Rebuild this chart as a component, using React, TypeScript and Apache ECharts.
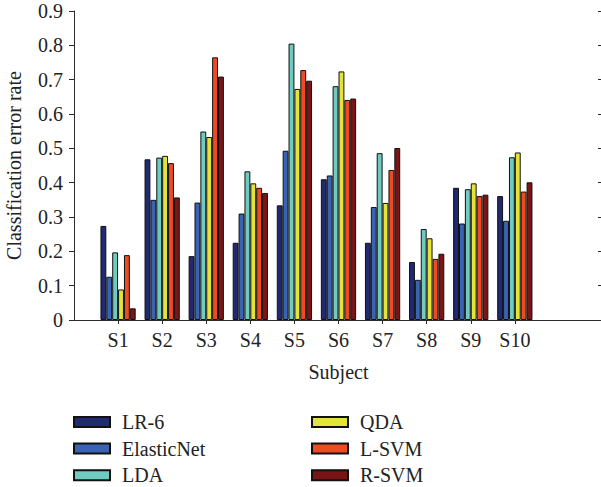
import React, { useEffect, useRef } from "react";
import * as echarts from "echarts";

const subjects = ["", "S1", "S2", "S3", "S4", "S5", "S6", "S7", "S8", "S9", "S10", "", ""];
const methods = ["LR-6", "ElasticNet", "LDA", "QDA", "L-SVM", "R-SVM"];
const colors = ["#1f2a72", "#3a63b4", "#6fcbbf", "#e3e43a", "#f04a22", "#7a1515"];

const lr6 = [0.274, 0.468, 0.186, 0.225, 0.334, 0.41, 0.225, 0.169, 0.385, 0.361];
const elasticNet = [0.126, 0.35, 0.342, 0.31, 0.493, 0.421, 0.329, 0.117, 0.281, 0.289];
const lda = [0.197, 0.473, 0.549, 0.433, 0.805, 0.681, 0.486, 0.265, 0.381, 0.474];
const qda = [0.089, 0.478, 0.533, 0.398, 0.673, 0.724, 0.341, 0.238, 0.398, 0.488];
const lsvm = [0.189, 0.457, 0.765, 0.385, 0.728, 0.641, 0.437, 0.178, 0.361, 0.374];
const rsvm = [0.034, 0.357, 0.709, 0.37, 0.697, 0.645, 0.501, 0.193, 0.365, 0.401];

const yTicks = [0, 0.1, 0.2, 0.3, 0.4, 0.5, 0.6, 0.7, 0.8, 0.9];

const FONT = "Liberation Serif";
const AXIS_COLOR = "#2a2a2a";

export default function App() {
  const ref = useRef<HTMLDivElement>(null);
  useEffect(() => {
    if (!ref.current) return;
    const chart = echarts.init(ref.current, undefined, { renderer: "svg" });
    const all = [lr6, elasticNet, lda, qda, lsvm, rsvm];
    const pad = (arr: number[]) => [null, ...arr, null, null];
    const series: any[] = all.map((vals, i) => ({
      name: methods[i],
      type: "bar",
      data: pad(vals),
      barGap: "0%",
      barCategoryGap: "20%",
      itemStyle: { color: colors[i], borderColor: "#111", borderWidth: 1 },
    }));
    const yMin = yTicks[0];
    const yMax = yTicks[yTicks.length - 1];
    const legendBase = {
      orient: "vertical",
      top: 412,
      height: 75,
      padding: 0,
      itemWidth: 36,
      itemHeight: 10,
      itemGap: 6.6,
      icon: "rect",
      textStyle: { fontFamily: FONT, fontSize: 20, color: "#222", lineHeight: 20, padding: [0, 0, 0, 7] },
    };
    chart.setOption({
      animation: false,
      backgroundColor: "#fff",
      textStyle: { fontFamily: FONT },
      grid: { left: 74, right: -2, top: 11, bottom: 167, containLabel: false, outerBoundsMode: "none" },
      legend: [
        { ...legendBase, data: methods.slice(0, 3), left: 73 },
        { ...legendBase, data: methods.slice(3), left: 311 },
      ],
      xAxis: [
        {
          type: "category",
          data: subjects,
          boundaryGap: false,
          position: "bottom",
          name: "Subject",
          nameLocation: "middle",
          nameGap: 42,
          nameTextStyle: { fontFamily: FONT, fontSize: 20, color: "#222" },
          axisLine: { lineStyle: { color: AXIS_COLOR, width: 1 } },
          axisTick: { show: false },
          axisLabel: { fontFamily: FONT, fontSize: 20, color: "#222", margin: 10, interval: 0 },
          splitLine: { show: false },
        },
        {
          type: "category",
          data: subjects,
          boundaryGap: false,
          position: "top",
          axisLine: { lineStyle: { color: AXIS_COLOR, width: 1 } },
          axisTick: {
            show: true,
            inside: true,
            length: 4,
            interval: (_i: number, v: string) => v !== "",
            lineStyle: { color: AXIS_COLOR },
          },
          axisLabel: { show: false },
          splitLine: { show: false },
        },
      ],
      yAxis: [
        {
          type: "value",
          min: yMin,
          max: yMax,
          interval: 0.1,
          name: "Classification error rate",
          nameLocation: "middle",
          nameGap: 50,
          nameTextStyle: { fontFamily: FONT, fontSize: 20, color: "#222" },
          axisLine: { show: true, lineStyle: { color: AXIS_COLOR, width: 1 } },
          axisTick: { show: true, inside: false, length: 5, lineStyle: { color: AXIS_COLOR } },
          axisLabel: {
            fontFamily: FONT,
            fontSize: 20,
            color: "#222",
            margin: 11,
            formatter: (v: number) => (Math.abs(v) < 1e-9 ? "0" : v.toFixed(1)),
          },
          splitLine: { show: false },
        },
        {
          type: "value",
          min: yMin,
          max: yMax,
          interval: 0.1,
          position: "right",
          axisLine: { show: true, lineStyle: { color: AXIS_COLOR, width: 1 } },
          axisTick: { show: true, inside: true, length: 5, lineStyle: { color: AXIS_COLOR } },
          axisLabel: { show: false },
          splitLine: { show: false },
        },
      ],
      series,
    });
    return () => chart.dispose();
  }, []);
  return <div ref={ref} style={{ width: 601, height: 487, position: "absolute", left: 0, top: 0 }} />;
}
